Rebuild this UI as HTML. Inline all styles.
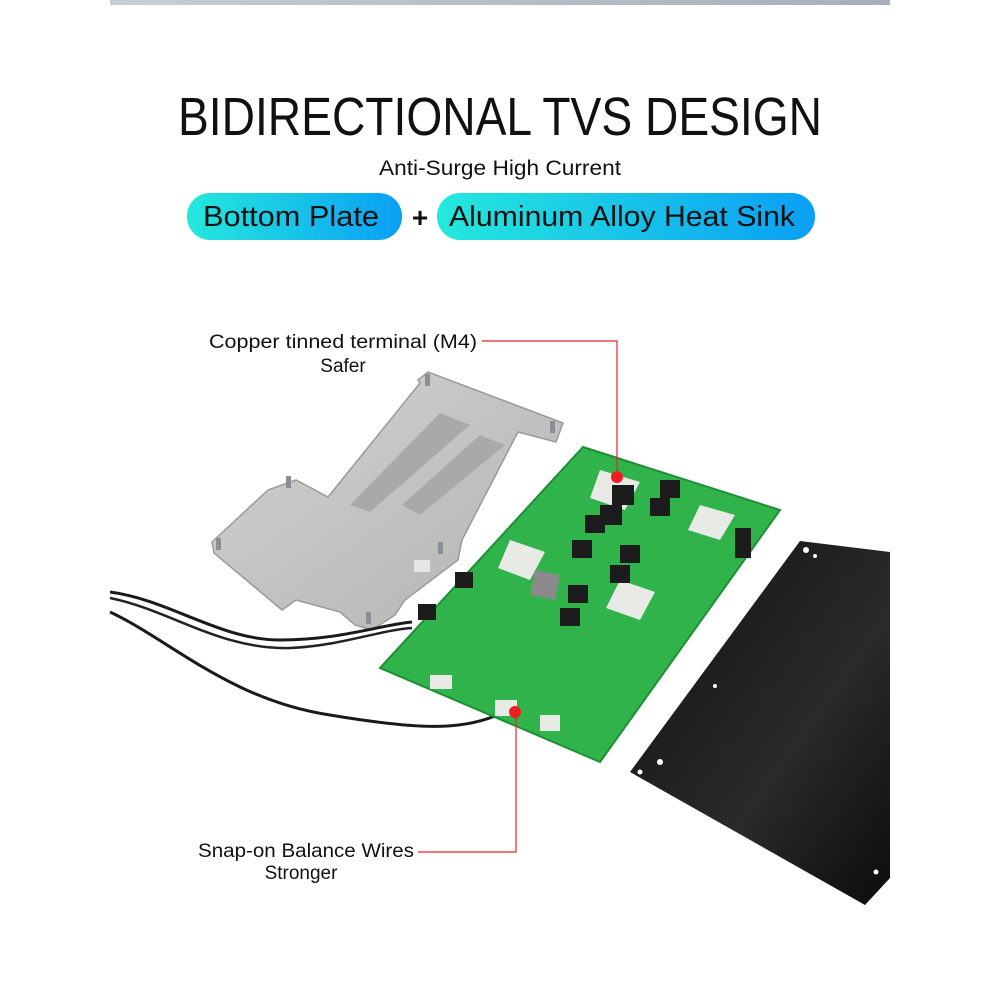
<!DOCTYPE html>
<html><head><meta charset="utf-8"><style>
html,body{margin:0;padding:0;background:#fff;}
svg{display:block}
text{font-family:"Liberation Sans Narrow","Liberation Sans",sans-serif;fill:#111}
</style></head><body>
<svg width="1000" height="1000" viewBox="0 0 1000 1000" xmlns="http://www.w3.org/2000/svg">
<defs>
<linearGradient id="pill" x1="0" x2="1" y1="0" y2="0"><stop offset="0" stop-color="#25e8dc"/><stop offset="1" stop-color="#0a9ff5"/></linearGradient>
<linearGradient id="bar" x1="0" x2="1"><stop offset="0" stop-color="#c8ccd4"/><stop offset="1" stop-color="#a9aeb8"/></linearGradient>
<linearGradient id="alu" x1="0" x2="1" y1="0" y2="1"><stop offset="0" stop-color="#d2d2d0"/><stop offset="1" stop-color="#b3b3b1"/></linearGradient>
<linearGradient id="blk" x1="0" x2="1" y1="0" y2="1"><stop offset="0" stop-color="#111"/><stop offset="0.6" stop-color="#2a2a2a"/><stop offset="1" stop-color="#0c0c0c"/></linearGradient>
</defs>
<rect x="110" y="0" width="780" height="5" fill="url(#bar)"/>
<text x="500" y="135" font-size="54" text-anchor="middle" textLength="644" lengthAdjust="spacingAndGlyphs">BIDIRECTIONAL TVS DESIGN</text>
<text x="500" y="175" font-size="21" text-anchor="middle" textLength="242" lengthAdjust="spacingAndGlyphs">Anti-Surge High Current</text>
<rect x="187" y="193" width="215" height="47" rx="23" fill="url(#pill)"/>
<rect x="437" y="193" width="378" height="47" rx="23" fill="url(#pill)"/>
<text x="291" y="226" font-size="29" text-anchor="middle" textLength="176" lengthAdjust="spacingAndGlyphs">Bottom Plate</text>
<text x="420" y="227" font-size="28" font-weight="bold" text-anchor="middle">+</text>
<text x="622" y="226" font-size="29" text-anchor="middle" textLength="346" lengthAdjust="spacingAndGlyphs">Aluminum Alloy Heat Sink</text>

<!-- heatsink plate -->
<polygon points="418,380 428,372 563,423 556,442 518,432 462,540 458,560 405,600 395,615 372,630 355,625 340,612 296,600 282,610 214,553 212,542 268,490 296,480 328,497 420,383" fill="url(#alu)" stroke="#9a9a98" stroke-width="1.5"/>
<polygon points="440,413 470,425 370,512 350,505" fill="#a9a9a7"/>
<polygon points="480,435 505,445 420,515 402,505" fill="#a9a9a7"/>
<rect x="414" y="560" width="16" height="12" fill="#e6e6e6"/>
<g fill="#8a8f96">
<rect x="425" y="374" width="5" height="12"/><rect x="550" y="421" width="5" height="12"/><rect x="286" y="476" width="5" height="12"/><rect x="216" y="538" width="5" height="12"/><rect x="438" y="542" width="5" height="12"/><rect x="366" y="612" width="5" height="12"/>
</g>

<!-- cables -->
<path d="M110,592 C170,600 220,640 280,640 C340,640 380,625 412,622" fill="none" stroke="#1a1a1a" stroke-width="3"/>
<path d="M110,598 C170,610 220,650 290,648 C340,646 380,630 412,628" fill="none" stroke="#222" stroke-width="2.5"/>
<path d="M110,612 C170,640 230,700 330,715 C420,730 460,730 495,716" fill="none" stroke="#1a1a1a" stroke-width="3"/>

<!-- PCB -->
<polygon points="583,447 780,510 600,762 380,668" fill="#2fb34a" stroke="#1f8f36" stroke-width="2"/>
<g fill="#e8eae6">
<polygon points="600,470 640,482 625,510 590,498"/><polygon points="700,505 735,515 720,540 688,530"/>
<polygon points="510,540 545,552 530,580 498,568"/><polygon points="620,580 655,592 640,620 606,608"/>
<rect x="430" y="675" width="22" height="14"/><rect x="495" y="700" width="22" height="16"/><rect x="540" y="715" width="20" height="16"/>
</g>
<g fill="#1c1c1c">
<rect x="612" y="485" width="22" height="20"/><rect x="600" y="505" width="22" height="20"/>
<rect x="650" y="498" width="20" height="18"/><rect x="660" y="480" width="20" height="18"/>
<rect x="585" y="515" width="20" height="18"/><rect x="572" y="540" width="20" height="18"/>
<rect x="620" y="545" width="20" height="18"/><rect x="610" y="565" width="20" height="18"/>
<rect x="568" y="585" width="20" height="18"/><rect x="560" y="608" width="20" height="18"/>
<rect x="455" y="572" width="18" height="16"/><rect x="418" y="604" width="18" height="16"/>
<rect x="735" y="528" width="16" height="30"/>
</g>
<polygon points="535,570 560,575 555,600 530,595" fill="#8a8a8a"/>
<!-- black plate -->
<polygon points="630,772 800,541 890,552 890,878 865,905" fill="url(#blk)"/>
<g fill="#fff"><circle cx="806" cy="550" r="3"/><circle cx="815" cy="556" r="2"/><circle cx="715" cy="686" r="2"/><circle cx="660" cy="762" r="3"/><circle cx="640" cy="772" r="2.5"/><circle cx="876" cy="872" r="2.5"/></g>

<!-- callouts -->
<polyline points="482,341 617,341 617,475" fill="none" stroke="#e8252a" stroke-width="1.2"/>
<circle cx="617" cy="477" r="6" fill="#f01e23"/>
<polyline points="418,852 516,852 516,712" fill="none" stroke="#e8252a" stroke-width="1.2"/>
<circle cx="515" cy="712" r="6" fill="#f01e23"/>
<text x="343" y="348" font-size="19" text-anchor="middle" textLength="268" lengthAdjust="spacingAndGlyphs">Copper tinned terminal (M4)</text>
<text x="343" y="372" font-size="19" text-anchor="middle">Safer</text>
<text x="306" y="857" font-size="19" text-anchor="middle" textLength="216" lengthAdjust="spacingAndGlyphs">Snap-on Balance Wires</text>
<text x="301" y="879" font-size="19" text-anchor="middle">Stronger</text>
</svg>
</body></html>
